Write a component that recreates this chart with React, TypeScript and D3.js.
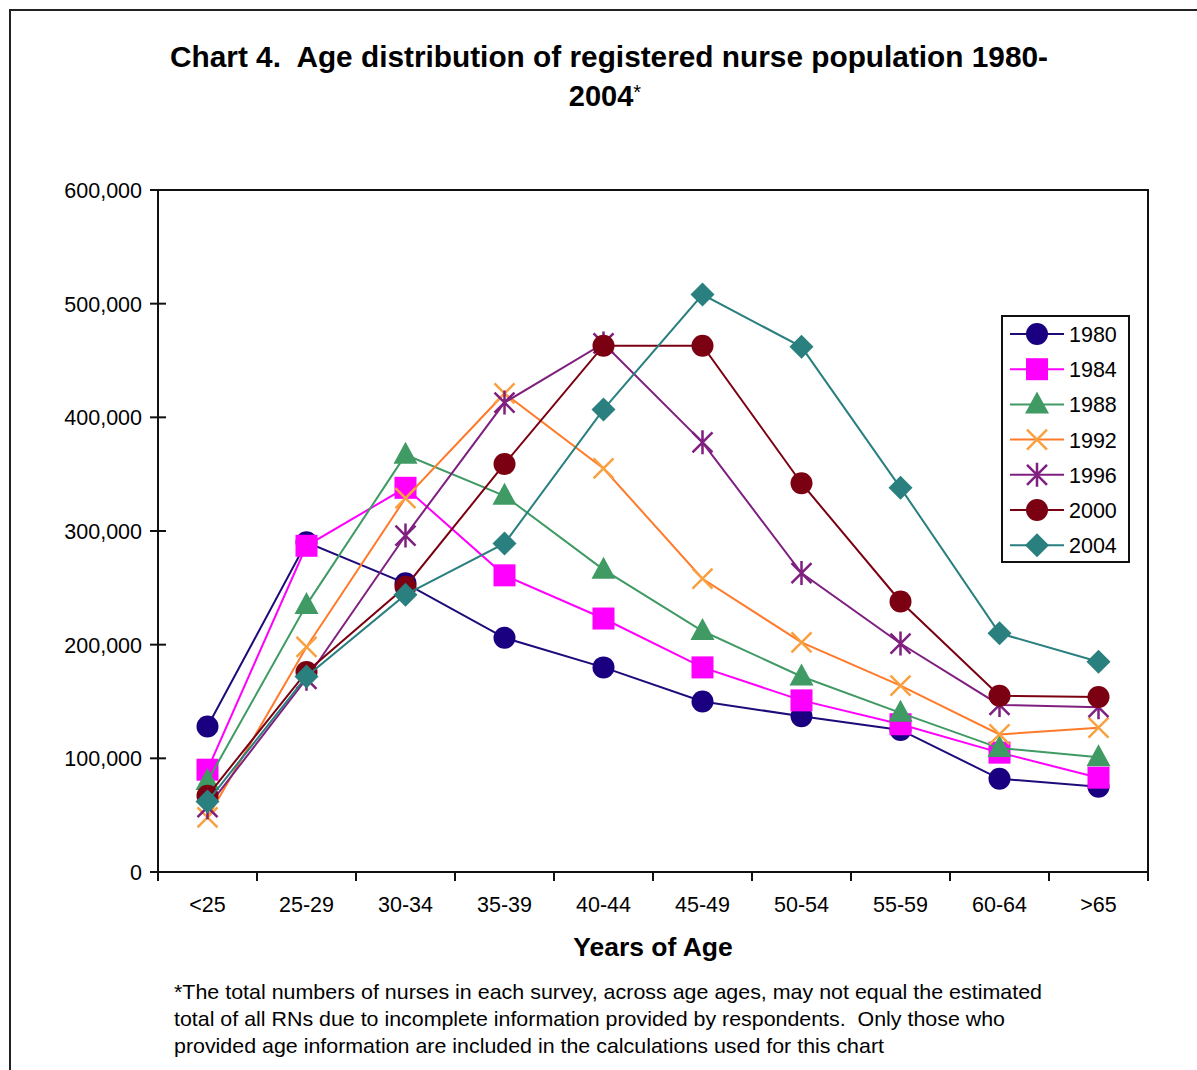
import React from "react";
import * as d3 from "d3";

const ageGroups = ["<25", "25-29", "30-34", "35-39", "40-44", "45-49", "50-54", "55-59", "60-64", ">65"];
const years = ["1980", "1984", "1988", "1992", "1996", "2000", "2004"];

const v1980 = [128000, 290000, 254000, 206000, 180000, 150000, 137000, 125000, 82000, 75000];
const v1984 = [90000, 287000, 338000, 261000, 223000, 180000, 151000, 130000, 105000, 83000];
const v1988 = [80000, 235000, 367000, 331000, 266000, 212000, 172000, 140000, 109000, 101000];
const v1992 = [48000, 198000, 329000, 421000, 355000, 258000, 202000, 164000, 121000, 127000];
const v1996 = [57000, 170000, 296000, 413000, 465000, 378000, 263000, 201000, 147000, 145000];
const v2000 = [67000, 176000, 251000, 359000, 463000, 463000, 342000, 238000, 155000, 154000];
const v2004 = [62000, 172000, 244000, 289000, 407000, 508000, 462000, 338000, 210000, 185000];

const yTicks = [0, 100000, 200000, 300000, 400000, 500000, 600000];

const seriesValues = [v1980, v1984, v1988, v1992, v1996, v2000, v2004];
const lineColors = ["#1f0a7a", "#ff00ff", "#3f9a63", "#ff7a2a", "#7f1f7f", "#7b0012", "#2a7f7f"];
const markerColors = ["#1a0080", "#ff00ff", "#3f9a63", "#f9a040", "#7f1f7f", "#7b0012", "#2a7f7f"];
const markerShapes = ["circle", "square", "triangle", "x", "star", "circle", "diamond"];

const font = "'Liberation Sans', Arial, sans-serif";

const margin = { left: 158, right: 1148, top: 190, bottom: 872 };

const Marker = ({ shape, x, y, color }: { shape: string; x: number; y: number; color: string }) => {
  if (shape === "circle") return <circle cx={x} cy={y} r={11} fill={color} />;
  if (shape === "square") return <rect x={x - 11} y={y - 11} width={22} height={22} fill={color} />;
  if (shape === "triangle")
    return <path d={`M${x},${y - 13} L${x + 12},${y + 9} L${x - 12},${y + 9} Z`} fill={color} />;
  if (shape === "diamond")
    return <path d={`M${x},${y - 12} L${x + 12},${y} L${x},${y + 12} L${x - 12},${y} Z`} fill={color} />;
  const s = 10;
  if (shape === "x")
    return (
      <path
        d={`M${x - s},${y - s} L${x + s},${y + s} M${x - s},${y + s} L${x + s},${y - s}`}
        stroke={color}
        strokeWidth={2.5}
      />
    );
  // asterisk
  return (
    <path
      d={`M${x - s},${y - s} L${x + s},${y + s} M${x - s},${y + s} L${x + s},${y - s} M${x},${y - 12} L${x},${y + 12}`}
      stroke={color}
      strokeWidth={2.5}
    />
  );
};

export default function App() {
  const width = 1197;
  const height = 1070;

  const x = d3.scaleBand().domain(ageGroups).range([margin.left, margin.right]);
  const y = d3.scaleLinear().domain([0, 600000]).range([margin.bottom, margin.top]);
  const cx = (g: string) => (x(g) as number) + x.bandwidth() / 2;

  const line = d3
    .line<number>()
    .x((_, i) => cx(ageGroups[i]))
    .y((d) => y(d));

  const fmt = d3.format(",");
  const boundaries = ageGroups.map((g) => x(g) as number).concat([margin.right]);

  return (
    <svg
      width={width}
      height={height}
      style={{ position: "absolute", left: 0, top: 0, fontFamily: font }}
    >
      <rect width={width} height={height} fill="#fff" />
      {/* outer frame */}
      <path d={`M10,${height} L10,10 L${width},10`} fill="none" stroke="#222" strokeWidth={2} />

      {/* title */}
      <text
        x={170}
        y={67}
        fontSize={29}
        fontWeight="bold"
        textLength={878}
        lengthAdjust="spacingAndGlyphs"
        style={{ whiteSpace: "pre" }}
      >
        {"Chart 4.  Age distribution of registered nurse population 1980-"}
      </text>
      <text x={605} y={106} textAnchor="middle" fontSize={29} fontWeight="bold">
        2004<tspan fontWeight="normal" fontSize={20} dy={-7}>*</tspan>
      </text>

      {/* plot frame */}
      <rect
        x={margin.left}
        y={margin.top}
        width={margin.right - margin.left}
        height={margin.bottom - margin.top}
        fill="none"
        stroke="#111"
        strokeWidth={2}
      />

      {/* y axis ticks and labels */}
      {yTicks.map((t) => (
        <g key={t}>
          <line x1={150} x2={166} y1={y(t)} y2={y(t)} stroke="#111" strokeWidth={2} />
          <text x={142} y={y(t) + 8} textAnchor="end" fontSize={21.5}>
            {fmt(t)}
          </text>
        </g>
      ))}

      {/* x axis ticks and labels */}
      {boundaries.map((b, i) => (
        <line key={i} x1={b} x2={b} y1={margin.bottom} y2={margin.bottom + 9} stroke="#111" strokeWidth={2} />
      ))}
      {ageGroups.map((g) => (
        <text key={g} x={cx(g)} y={912} textAnchor="middle" fontSize={21.5}>
          {g}
        </text>
      ))}
      <text x={653} y={956} textAnchor="middle" fontSize={26.5} fontWeight="bold">
        Years of Age
      </text>

      {/* series */}
      {seriesValues.map((vals, si) => (
        <g key={years[si]}>
          <path d={line(vals) as string} fill="none" stroke={lineColors[si]} strokeWidth={2} />
          {vals.map((v, i) => (
            <Marker key={i} shape={markerShapes[si]} x={cx(ageGroups[i])} y={y(v)} color={markerColors[si]} />
          ))}
        </g>
      ))}

      {/* legend */}
      <rect x={1002} y={316} width={127} height={246} fill="#fff" stroke="#111" strokeWidth={2} />
      {years.map((yr, i) => {
        const ly = 334 + i * 35.2;
        return (
          <g key={yr}>
            <line x1={1010} x2={1064} y1={ly} y2={ly} stroke={lineColors[i]} strokeWidth={2} />
            <Marker shape={markerShapes[i]} x={1037} y={ly} color={markerColors[i]} />
            <text x={1069} y={ly + 8} fontSize={21.5}>
              {yr}
            </text>
          </g>
        );
      })}

      {/* footnote */}
      <g fontSize={21}>
        <text x={174} y={999} textLength={868} lengthAdjust="spacingAndGlyphs">
          *The total numbers of nurses in each survey, across age ages, may not equal the estimated
        </text>
        <text x={174} y={1026} style={{ whiteSpace: "pre" }} textLength={831} lengthAdjust="spacingAndGlyphs">
          {"total of all RNs due to incomplete information provided by respondents.  Only those who"}
        </text>
        <text x={174} y={1053} textLength={710} lengthAdjust="spacingAndGlyphs">
          provided age information are included in the calculations used for this chart
        </text>
      </g>
    </svg>
  );
}
